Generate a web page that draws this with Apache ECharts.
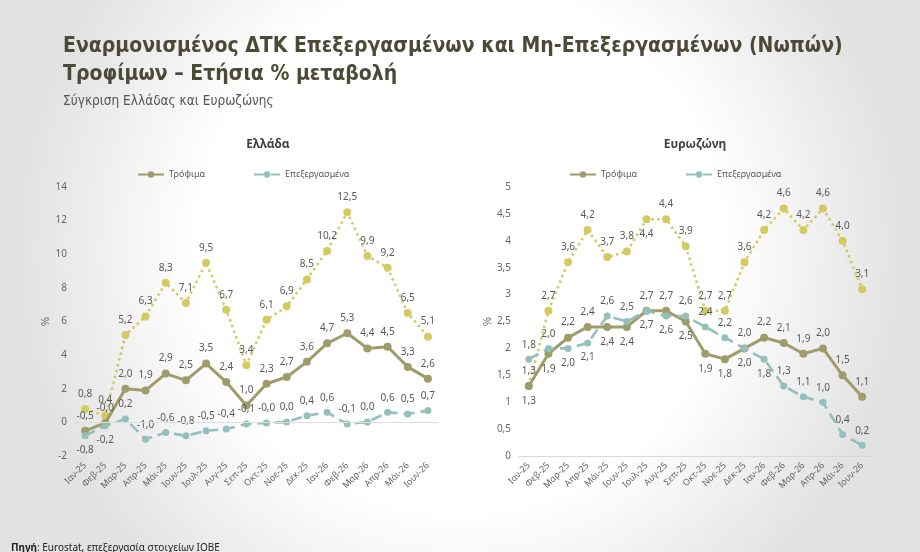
<!DOCTYPE html>
<html>
<head>
<meta charset="utf-8">
<script src="https://cdn.jsdelivr.net/npm/echarts@6/dist/echarts.min.js"></script>
<style>
html,body{margin:0;padding:0;}
#chart{width:920px;height:552px;}
</style>
</head>
<body>
<div id="chart"></div>
<script>
var months = ['Ιαν-25','Φεβ-25','Μαρ-25','Απρ-25','Μάι-25','Ιουν-25','Ιουλ-25','Αυγ-25','Σεπ-25','Οκτ-25','Νοε-25','Δεκ-25','Ιαν-26','Φεβ-26','Μαρ-26','Απρ-26','Μάι-26','Ιουν-26'];

// Ελλάδα
var grFood        = [-0.5, -0.03, 2.0, 1.9, 2.9, 2.5, 3.5, 2.4, 1.0, 2.3, 2.7, 3.6, 4.7, 5.3, 4.4, 4.5, 3.3, 2.6];
var grProcessed   = [-0.8, -0.2, 0.2, -1.0, -0.6, -0.8, -0.5, -0.4, -0.1, -0.03, 0.02, 0.4, 0.6, -0.1, 0.02, 0.6, 0.5, 0.7];
var grUnprocessed = [0.8, 0.4, 5.2, 6.3, 8.3, 7.1, 9.5, 6.7, 3.4, 6.1, 6.9, 8.5, 10.2, 12.5, 9.9, 9.2, 6.5, 5.1];

// Ευρωζώνη
var ezFood        = [1.3, 1.9, 2.2, 2.4, 2.4, 2.4, 2.7, 2.7, 2.5, 1.9, 1.8, 2.0, 2.2, 2.1, 1.9, 2.0, 1.5, 1.1];
var ezProcessed   = [1.8, 2.0, 2.0, 2.1, 2.6, 2.5, 2.7, 2.6, 2.6, 2.4, 2.2, 2.0, 1.8, 1.3, 1.1, 1.0, 0.4, 0.2];
var ezUnprocessed = [1.3, 2.7, 3.6, 4.2, 3.7, 3.8, 4.4, 4.4, 3.9, 2.7, 2.7, 3.6, 4.2, 4.6, 4.2, 4.6, 4.0, 3.1];

// label placement (style only): 'b' = below, otherwise above
var grProcessedPos = 'bb';
var ezFoodPos      = 'bb..bb..bbb';
var ezProcessedPos = '..bb..bb...bb';
var ezUnprocPos    = '......b';

var cOlive = '#9e9c6b', cTeal = '#93c0ba', cYellow = '#d3cb62';
var fmt = function (v) { return v.toFixed(1).replace('.', ','); };
var narrow = 'Liberation Sans Narrow, DejaVu Sans Condensed, sans-serif';

function withPos(vals, pos) {
	return vals.map(function (v, i) {
		var p = pos.charAt(i) === 'b' ? 'bottom' : 'top';
		return { value: v, label: { position: p } };
	});
}

function lineSeries(name, idx, vals, pos, color, kind) {
	var s = {
		name: name,
		type: 'line',
		xAxisIndex: idx,
		yAxisIndex: idx,
		data: withPos(vals, pos),
		symbol: 'circle',
		symbolSize: kind === 'dash' ? 7 : 8,
		itemStyle: { color: color },
		lineStyle: { color: color, width: kind === 'solid' ? 3 : 2.6 },
		label: {
			show: true,
			color: '#595959',
			fontSize: 10,
			distance: 6,
			fontFamily: 'Noto Sans',
			formatter: function (p) { return fmt(p.value); }
		},
		animation: false,
		z: kind === 'dot' ? 2 : 3
	};
	if (kind === 'dash') s.lineStyle.type = [11, 6];
	if (kind === 'dot') s.lineStyle.type = [2.5, 3.5];
	return s;
}

var myChart = echarts.init(document.getElementById('chart'));
var axisFont = { color: '#666', fontSize: 10, fontFamily: 'Noto Sans' };

var option = {
	backgroundColor: {
		type: 'radial', x: 0.5, y: 0.45, r: 0.8,
		colorStops: [
			{ offset: 0.6, color: '#ffffff' },
			{ offset: 1, color: '#e2e2e2' }
		]
	},
	title: [
		{
			text: 'Εναρμονισμένος ΔΤΚ Επεξεργασμένων και Μη-Επεξεργασμένων (Νωπών)\nΤροφίμων – Ετήσια % μεταβολή',
			left: 58, top: 28,
			textStyle: { fontFamily: narrow, fontSize: 21, fontWeight: 'bold', color: '#4b4a36', lineHeight: 28 }
		},
		{
			text: 'Σύγκριση Ελλάδας και Ευρωζώνης',
			left: 58, top: 89,
			textStyle: { fontFamily: narrow, fontSize: 13.5, fontWeight: 'normal', color: '#555' }
		},
		{
			text: 'Ελλάδα', left: 263, top: 134, textAlign: 'center',
			textStyle: { fontFamily: 'Noto Sans', fontSize: 12, fontWeight: 'bold', color: '#404040' }
		},
		{
			text: 'Ευρωζώνη', left: 690, top: 134, textAlign: 'center',
			textStyle: { fontFamily: 'Noto Sans', fontSize: 12, fontWeight: 'bold', color: '#404040' }
		},
		{
			text: '{b|Πηγή}: Eurostat, επεξεργασία στοιχείων IOBE',
			left: 6, top: 538,
			textStyle: {
				fontFamily: 'Noto Sans', fontSize: 10, fontWeight: 'normal', color: '#222',
				rich: { b: { fontFamily: 'Noto Sans', fontSize: 10, fontWeight: 'bold', color: '#222' } }
			}
		}
	],
	legend: [
		{
			left: 132, top: 165, itemGap: 48, itemWidth: 26, itemHeight: 8,
			data: ['Τρόφιμα', 'Επεξεργασμένα'],
			textStyle: { color: '#595959', fontSize: 9, fontFamily: 'Noto Sans' }
		},
		{
			left: 564, top: 165, itemGap: 48, itemWidth: 26, itemHeight: 8,
			data: ['Τρόφιμα', 'Επεξεργασμένα'],
			textStyle: { color: '#595959', fontSize: 9, fontFamily: 'Noto Sans' }
		}
	],
	grid: [
		{ left: 75, top: 187, width: 363, height: 269 },
		{ left: 519, top: 187, width: 353, height: 269 }
	],
	xAxis: [0, 1].map(function (i) {
		return {
			type: 'category',
			gridIndex: i,
			data: months,
			boundaryGap: true,
			axisLine: { show: i === 1, onZero: false, lineStyle: { color: '#d9d9d9' } },
			axisTick: { show: false },
			axisLabel: { rotate: 45, interval: 0, color: '#666', fontSize: 9, fontFamily: 'Noto Sans', margin: 8 },
			splitLine: { show: false }
		};
	}),
	yAxis: [
		{
			type: 'value', gridIndex: 0, min: -2, max: 14, interval: 2,
			name: '%', nameLocation: 'middle', nameGap: 14, nameRotate: 90,
			nameTextStyle: { color: '#666', fontSize: 10 },
			axisLine: { show: false }, axisTick: { show: false },
			axisLabel: axisFont, splitLine: { show: false }
		},
		{
			type: 'value', gridIndex: 1, min: 0, max: 5, interval: 0.5,
			name: '%', nameLocation: 'middle', nameGap: 22, nameRotate: 90,
			nameTextStyle: { color: '#666', fontSize: 10 },
			axisLine: { show: false }, axisTick: { show: false },
			axisLabel: { color: '#666', fontSize: 10, fontFamily: 'Noto Sans', formatter: function (v) { return String(v).replace('.', ','); } },
			splitLine: { show: false }
		}
	],
	series: [
		lineSeries('Μη-επεξεργασμένα', 0, grUnprocessed, '', cYellow, 'dot'),
		(function () {
			var s = lineSeries('Τρόφιμα', 0, grFood, '', cOlive, 'solid');
			s.markLine = {
				silent: true, symbol: 'none', label: { show: false },
				lineStyle: { color: '#dddddd', type: 'solid', width: 1 },
				data: [{ yAxis: 0 }]
			};
			return s;
		})(),
		lineSeries('Επεξεργασμένα', 0, grProcessed, grProcessedPos, cTeal, 'dash'),
		lineSeries('Μη-επεξεργασμένα', 1, ezUnprocessed, ezUnprocPos, cYellow, 'dot'),
		lineSeries('Τρόφιμα', 1, ezFood, ezFoodPos, cOlive, 'solid'),
		lineSeries('Επεξεργασμένα', 1, ezProcessed, ezProcessedPos, cTeal, 'dash')
	]
};
myChart.setOption(option);
</script>
</body>
</html>
